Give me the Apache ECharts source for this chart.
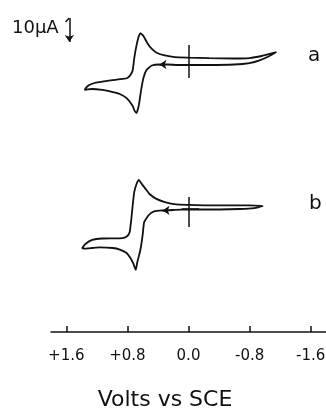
<!DOCTYPE html>
<html>
<head>
<meta charset="utf-8">
<script src="https://cdn.jsdelivr.net/npm/echarts@6/dist/echarts.min.js"></script>
<style>
html, body { margin: 0; padding: 0; background: #fff; }
#chart { width: 326px; height: 411px; }
</style>
</head>
<body>
<div id="chart"></div>
<script>
// voltammogram a : [potential V, current uA]
var curveA = [[0, 0], [0.14, 0], [0.27, 0.2], [0.38, 0.2], [0.48, -0.2], [0.55, -2.1], [0.59, -5.4], [0.62, -10.4],
	[0.65, -16.7], [0.68, -20], [0.71, -18.8], [0.73, -17.1], [0.81, -13.8], [0.90, -12.1], [0.99, -11.3],
	[1.13, -10.4], [1.26, -10], [1.32, -10.2], [1.36, -10.4], [1.34, -9.4], [1.30, -8.3], [1.23, -7.5],
	[1.16, -7.1], [1.05, -6.5], [0.86, -5.8], [0.80, -5.4], [0.76, -4.2], [0.73, -2.1], [0.71, 2.9],
	[0.68, 8.3], [0.65, 12.1], [0.63, 13.3], [0.59, 12.1], [0.54, 9.2], [0.48, 6.7], [0.41, 5], [0.31, 4],
	[0.18, 3.3], [0, 3.1], [-0.27, 2.9], [-0.6, 2.7], [-0.80, 2.9], [-0.96, 3.75], [-1.06, 4.6], [-1.15, 5.4],
	[-1.06, 3.75], [-0.93, 1.9], [-0.80, 0.8], [-0.60, 0.2], [-0.27, 0], [0, 0]];
// voltammogram b
var curveB = [[0, -0.2], [0.18, -0.4], [0.34, -0.6], [0.45, -1.0], [0.52, -2.5], [0.58, -5.4], [0.60, -10.8],
	[0.63, -17.1], [0.67, -22.1], [0.69, -25.4], [0.72, -22.9], [0.76, -20.4], [0.81, -18.3], [0.90, -16.9],
	[0.99, -16.25], [1.16, -16], [1.26, -16.25], [1.35, -16.5], [1.39, -16.25], [1.35, -14.6], [1.26, -12.9],
	[1.13, -12.3], [0.86, -12.1], [0.80, -11.25], [0.77, -9.6], [0.75, -4.6], [0.73, 1.7], [0.71, 7.1],
	[0.68, 10.4], [0.65, 12.1], [0.62, 10.8], [0.56, 8.3], [0.51, 6.25], [0.42, 4.2], [0.31, 2.9], [0.16, 1.9],
	[0, 1.7], [-0.24, 1.5], [-0.54, 1.5], [-0.80, 1.5], [-0.97, 1.25], [-0.86, 0.4], [-0.67, 0], [-0.41, -0.2],
	[-0.14, -0.2], [0, -0.2]];
// origin crosses
var crossA = [[[0, 8.3], [0, -5.4]], [[0.08, 0], [-0.14, 0]]];
var crossB = [[[0, 5], [0, -7.5]], [[0.09, 0], [-0.14, 0]]];
// scan direction arrows (tail -> head)
var arrowA = [[0.32, 0.2], [0.38, 0.2]];
var arrowB = [[0.28, -0.6], [0.34, -0.6]];
// 10 uA scale bar
var scaleBar = [[1.56, 19.6], [1.56, 9.6]];
var scaleHook = [[1.56, 19.6], [1.61, 17.9]];
var tickVals = [-1.6, -0.8, 0, 0.8, 1.6];

var FONT = 'DejaVu Sans';
var BLACK = '#111';

var myChart = echarts.init(document.getElementById('chart'));

function hiddenX(i) {
	return { gridIndex: i, type: 'value', inverse: true, min: -1.8, max: 1.8, show: false };
}
function hiddenY(i) {
	return { gridIndex: i, type: 'value', min: -30, max: 25, show: false };
}
function lineSeg(xi, coords, sym) {
	return {
		type: 'lines', coordinateSystem: 'cartesian2d', xAxisIndex: xi, yAxisIndex: xi,
		polyline: false, silent: true,
		symbol: sym || ['none', 'none'], symbolSize: 7,
		lineStyle: { color: BLACK, width: 1.5, opacity: 1 },
		data: coords.map(function(c) { return { coords: c }; })
	};
}
function cv(xi, data) {
	return {
		type: 'line', xAxisIndex: xi, yAxisIndex: xi, data: data,
		showSymbol: false, smooth: 0.15, clip: false, silent: true,
		lineStyle: { color: BLACK, width: 1.8 }
	};
}

var option = {
	animation: false,
	backgroundColor: '#fff',
	grid: [
		{ left: 51, right: 0, top: 5, height: 132, containLabel: false, outerBoundsMode: 'none' },
		{ left: 51, right: 0, top: 149, height: 132, containLabel: false, outerBoundsMode: 'none' },
		{ left: 51, right: 0, top: 300, height: 32, containLabel: false, outerBoundsMode: 'none' }
	],
	xAxis: [hiddenX(0), hiddenX(1), {
		gridIndex: 2, type: 'value', inverse: true, min: -1.8, max: 1.8,
		splitLine: { show: false },
		axisLine: { show: true, onZero: false, lineStyle: { color: BLACK, width: 1.5 } },
		axisTick: { show: true, inside: true, length: 6, customValues: tickVals, lineStyle: { color: BLACK, width: 1.5 } },
		axisLabel: {
			customValues: tickVals, margin: 17, color: BLACK, fontSize: 15, fontFamily: FONT,
			formatter: function(v) {
				var s = Math.abs(v).toFixed(1);
				if (v > 0) return '+' + s;
				if (v < 0) return '-' + s;
				return s;
			}
		},
		name: 'Volts vs SCE', nameLocation: 'middle', nameGap: 57,
		nameTextStyle: { color: BLACK, fontSize: 22, fontFamily: FONT, padding: [0, 47, 0, 0] }
	}],
	yAxis: [hiddenY(0), hiddenY(1), { gridIndex: 2, type: 'value', min: 0, max: 1, show: false }],
	graphic: [
		{ type: 'text', x: 12, y: 28, style: { text: '10µA', font: '18px "DejaVu Sans"', fill: BLACK, verticalAlign: 'middle' } },
		{ type: 'text', x: 308, y: 56, style: { text: 'a', font: '20px "DejaVu Sans"', fill: BLACK, verticalAlign: 'middle' } },
		{ type: 'text', x: 309, y: 204, style: { text: 'b', font: '20px "DejaVu Sans"', fill: BLACK, verticalAlign: 'middle' } }
	],
	series: [
		cv(0, curveA),
		cv(1, curveB),
		lineSeg(0, crossA),
		lineSeg(1, crossB),
		lineSeg(0, [arrowA], ['none', 'arrow']),
		lineSeg(1, [arrowB], ['none', 'arrow']),
		lineSeg(0, [scaleBar], ['none', 'arrow']),
		lineSeg(0, [scaleHook]),
		{ type: 'line', xAxisIndex: 2, yAxisIndex: 2, data: [] }
	]
};
myChart.setOption(option);
</script>
</body>
</html>
